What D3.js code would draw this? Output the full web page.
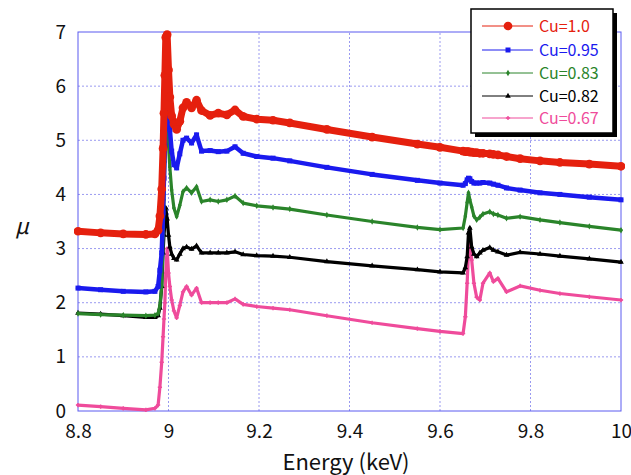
<!DOCTYPE html>
<html>
<head>
<meta charset="utf-8">
<script src="https://cdn.jsdelivr.net/npm/d3@7"></script>
<style>
  body { margin: 0; background: #fff; }
  text { font-family: "Noto Sans CJK JP", "DejaVu Sans", sans-serif; }
</style>
</head>
<body>
<div id="chart"></div>
<script>
// Energy grid (keV)
const energy = [8.80, 8.85, 8.90, 8.95, 8.970, 8.977, 8.981, 8.985, 8.988, 8.990, 8.992, 8.994, 8.997, 9.000, 9.003, 9.007, 9.012, 9.018, 9.025, 9.032, 9.040, 9.051, 9.062, 9.073, 9.092, 9.110, 9.129, 9.147, 9.165, 9.195, 9.231, 9.268, 9.35, 9.45, 9.55, 9.600, 9.651, 9.656, 9.660, 9.663, 9.666, 9.670, 9.675, 9.681, 9.688, 9.695, 9.710, 9.718, 9.728, 9.747, 9.777, 9.821, 9.865, 9.93, 10.0];

// mu values for each composition
const cu100 = [3.32, 3.29, 3.27, 3.26, 3.27, 3.34, 3.6, 4.1, 4.85, 5.5, 6.2, 6.9, 6.95, 6.3, 5.8, 5.45, 5.3, 5.2, 5.35, 5.6, 5.70, 5.6, 5.74, 5.55, 5.46, 5.5, 5.47, 5.56, 5.44, 5.39, 5.37, 5.32, 5.2, 5.06, 4.93, 4.87, 4.80, 4.79, 4.79, 4.79, 4.78, 4.78, 4.77, 4.77, 4.76, 4.76, 4.75, 4.74, 4.73, 4.70, 4.66, 4.62, 4.59, 4.56, 4.52];
const cu095 = [2.27, 2.24, 2.21, 2.20, 2.21, 2.3, 2.6, 2.92, 3.66, 4.3, 4.9, 5.7, 6.4, 5.9, 5.2, 4.8, 4.55, 4.49, 4.75, 5.0, 5.04, 4.95, 5.10, 4.80, 4.81, 4.79, 4.80, 4.88, 4.76, 4.70, 4.67, 4.62, 4.50, 4.37, 4.26, 4.21, 4.17, 4.2, 4.27, 4.30, 4.29, 4.24, 4.21, 4.21, 4.21, 4.22, 4.21, 4.19, 4.17, 4.12, 4.08, 4.03, 4.00, 3.95, 3.90];
const cu083 = [1.80, 1.78, 1.77, 1.76, 1.77, 1.8, 1.95, 2.3, 3.2, 3.9, 4.6, 5.3, 5.45, 4.9, 4.5, 4.08, 3.75, 3.59, 3.8, 4.05, 4.12, 4.03, 4.14, 3.87, 3.90, 3.87, 3.90, 3.97, 3.84, 3.79, 3.76, 3.73, 3.62, 3.50, 3.39, 3.35, 3.38, 3.6, 3.85, 4.03, 3.9, 3.77, 3.6, 3.53, 3.58, 3.64, 3.68, 3.64, 3.62, 3.56, 3.59, 3.53, 3.48, 3.41, 3.34];
const cu082 = [1.81, 1.79, 1.76, 1.73, 1.73, 1.76, 1.9, 2.3, 2.92, 3.25, 3.45, 3.75, 3.55, 3.25, 3.03, 2.9, 2.82, 2.79, 2.9, 3.0, 3.03, 2.99, 3.05, 2.92, 2.92, 2.92, 2.92, 2.94, 2.89, 2.87, 2.86, 2.84, 2.76, 2.68, 2.61, 2.57, 2.55, 2.65, 2.85, 3.29, 3.38, 3.03, 2.9, 2.85, 2.92, 2.97, 3.02, 2.97, 2.94, 2.88, 2.93, 2.90, 2.86, 2.81, 2.75];
const cu067 = [0.11, 0.08, 0.05, 0.02, 0.05, 0.11, 0.44, 0.9, 1.37, 1.7, 2.0, 2.55, 3.0, 2.55, 2.3, 2.05, 1.85, 1.72, 1.95, 2.2, 2.30, 2.14, 2.27, 2.0, 2.0, 2.0, 2.0, 2.07, 1.97, 1.93, 1.90, 1.87, 1.76, 1.63, 1.52, 1.47, 1.43, 1.74, 2.36, 2.97, 3.25, 2.79, 2.36, 2.1, 2.05, 2.36, 2.55, 2.39, 2.45, 2.2, 2.31, 2.23, 2.17, 2.11, 2.05];

const seriesNames = ['Cu=1.0', 'Cu=0.95', 'Cu=0.83', 'Cu=0.82', 'Cu=0.67'];
const xTicks = [8.8, 9, 9.2, 9.4, 9.6, 9.8, 10];
const yTicks = [0, 1, 2, 3, 4, 5, 6, 7];

const series = [
  { name: seriesNames[0], values: cu100, color: '#e5200e', width: 7,   symbol: d3.symbolCircle,   size: 60 },
  { name: seriesNames[1], values: cu095, color: '#1a1aee', width: 4.5, symbol: d3.symbolSquare,   size: 25 },
  { name: seriesNames[2], values: cu083, color: '#2a842a', width: 3.2, symbol: d3.symbolDiamond,  size: 12 },
  { name: seriesNames[3], values: cu082, color: '#000000', width: 3.2, symbol: d3.symbolTriangle, size: 14 },
  { name: seriesNames[4], values: cu067, color: '#ef4b9b', width: 3.2, symbol: d3.symbolCross,    size: 10 }
];

const width = 631, height = 475;
const margin = { top: 32, right: 10, bottom: 64, left: 78 };
const plotW = 621 - margin.left;
const plotH = 411 - margin.top;

const svg = d3.select('#chart')
  .append('svg')
  .attr('width', width)
  .attr('height', height);

const xScale = d3.scaleLinear().domain([8.8, 10]).range([margin.left, margin.left + plotW]);
const yScale = d3.scaleLinear().domain([0, 7]).range([margin.top + plotH, margin.top]);

// Gridlines
svg.append('g')
  .selectAll('line')
  .data(yTicks.slice(1, -1))
  .enter()
  .append('line')
  .attr('x1', xScale(8.8))
  .attr('x2', xScale(10))
  .attr('y1', d => yScale(d))
  .attr('y2', d => yScale(d))
  .attr('stroke', '#9a9af0')
  .attr('stroke-dasharray', '2,2');

svg.append('g')
  .selectAll('line')
  .data(xTicks.slice(1, -1))
  .enter()
  .append('line')
  .attr('x1', d => xScale(d))
  .attr('x2', d => xScale(d))
  .attr('y1', yScale(0))
  .attr('y2', yScale(7))
  .attr('stroke', '#9a9af0')
  .attr('stroke-dasharray', '2,2');

// Plot border
svg.append('rect')
  .attr('x', xScale(8.8))
  .attr('y', yScale(7))
  .attr('width', xScale(10) - xScale(8.8))
  .attr('height', yScale(0) - yScale(7))
  .attr('fill', 'none')
  .attr('stroke', '#5a5af0')
  .attr('stroke-width', 1);

// Axes (labels only)
const xAxis = svg.append('g')
  .attr('transform', `translate(0,${yScale(0)})`)
  .call(d3.axisBottom(xScale).tickValues(xTicks).tickSize(0).tickPadding(14)
    .tickFormat(d => d === 9 || d === 10 ? String(d) : d3.format('.1f')(d)));
xAxis.select('.domain').remove();
xAxis.selectAll('text').style('font-size', '19px').attr('fill', '#111');

const yAxis = svg.append('g')
  .attr('transform', `translate(${xScale(8.8)},0)`)
  .call(d3.axisLeft(yScale).tickValues(yTicks).tickSize(0).tickPadding(12).tickFormat(d3.format('d')));
yAxis.select('.domain').remove();
yAxis.selectAll('text').style('font-size', '19px').attr('fill', '#111');

// Axis titles
svg.append('text')
  .attr('x', 346)
  .attr('y', 470)
  .attr('text-anchor', 'middle')
  .style('font-size', '22px')
  .attr('fill', '#111')
  .text('Energy (keV)');

svg.append('text')
  .attr('x', 22)
  .attr('y', 234)
  .attr('text-anchor', 'middle')
  .style('font-size', '22px')
  .style('font-style', 'italic')
  .attr('fill', '#111')
  .text('μ');

// Series lines and markers, Cu=1.0 drawn last (on top)
const line = d3.line()
  .x((d, i) => xScale(energy[i]))
  .y(d => yScale(d));

svg.append('clipPath').attr('id', 'plotclip')
  .append('rect')
  .attr('x', xScale(8.8) - 4)
  .attr('y', yScale(7) - 4)
  .attr('width', xScale(10) - xScale(8.8) + 8)
  .attr('height', yScale(0) - yScale(7) + 6);

const plot = svg.append('g').attr('clip-path', 'url(#plotclip)');

series.slice().reverse().forEach(s => {
  plot.append('path')
    .datum(s.values)
    .attr('d', line)
    .attr('fill', 'none')
    .attr('stroke', s.color)
    .attr('stroke-width', s.width)
    .attr('stroke-linejoin', 'round')
    .attr('stroke-linecap', 'round');

  plot.selectAll(null)
    .data(s.values)
    .enter()
    .append('path')
    .attr('d', d3.symbol().type(s.symbol).size(s.size))
    .attr('transform', (d, i) => `translate(${xScale(energy[i])},${yScale(d)})`)
    .attr('fill', s.color);
});

// Legend
const lg = svg.append('g');
lg.append('rect')
  .attr('x', 475).attr('y', 13)
  .attr('width', 142).attr('height', 124)
  .attr('fill', '#000');
lg.append('rect')
  .attr('x', 471).attr('y', 9)
  .attr('width', 142).attr('height', 124)
  .attr('fill', '#fff')
  .attr('stroke', '#000')
  .attr('stroke-width', 1.5);

const rowY = [26, 50, 73, 96, 118];
series.forEach((s, i) => {
  const y = rowY[i];
  lg.append('line')
    .attr('x1', 482).attr('x2', 533)
    .attr('y1', y).attr('y2', y)
    .attr('stroke', s.color)
    .attr('stroke-width', 1);
  lg.append('path')
    .attr('d', d3.symbol().type(s.symbol).size(s.size))
    .attr('transform', `translate(508,${y})`)
    .attr('fill', s.color);
  lg.append('text')
    .attr('x', 539)
    .attr('y', y + 6)
    .style('font-size', '16px')
    .attr('fill', s.color)
    .text(s.name);
});
</script>
</body>
</html>
